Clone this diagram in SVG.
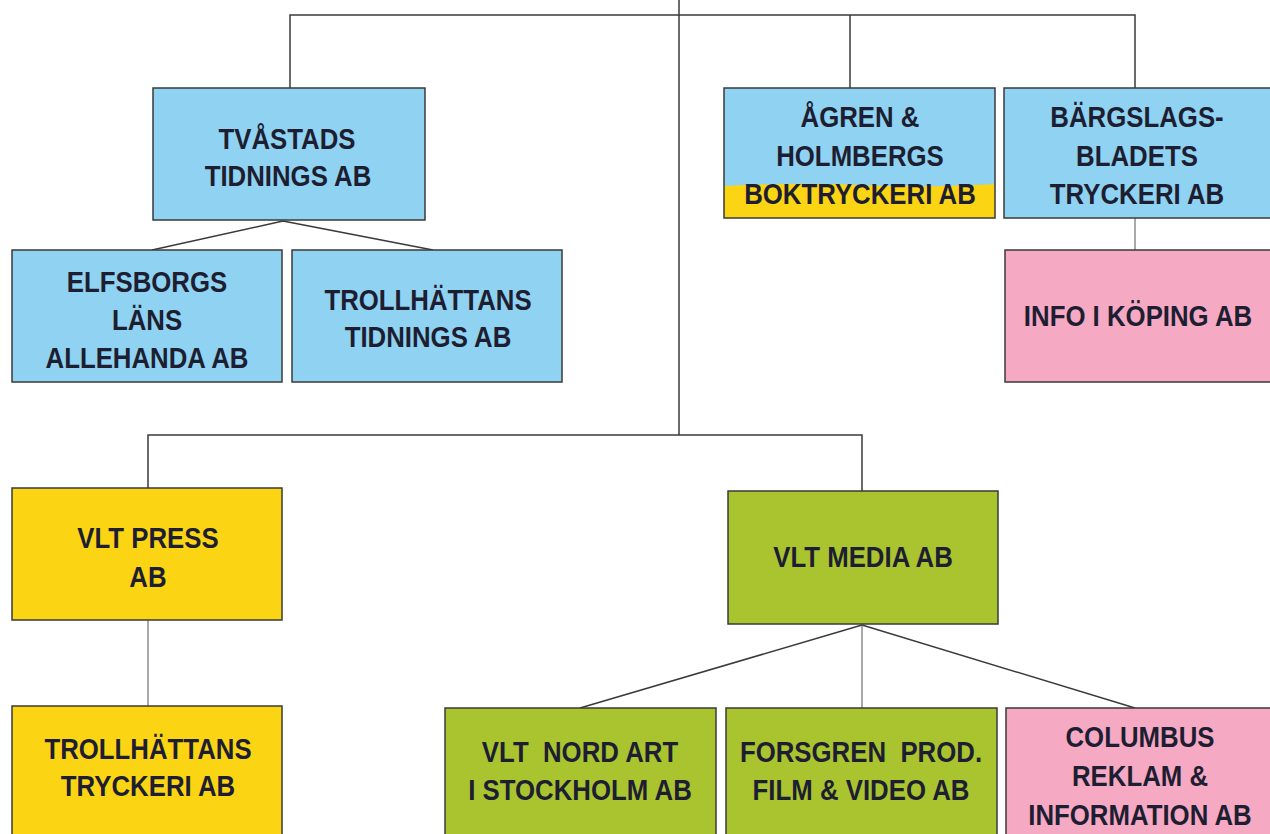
<svg xmlns="http://www.w3.org/2000/svg" width="1270" height="834" viewBox="0 0 1270 834">
<style>
.bg{fill:#ffffff}
.box{stroke:#3a3a3a;stroke-width:1.5}
.blue{fill:#8fd2f1}
.yellow{fill:#fbd414}
.green{fill:#a9c42f}
.pink{fill:#f6a9c3}
.t{font-family:"Liberation Sans",Arial,Helvetica,sans-serif;font-weight:bold;font-size:30px;fill:#1e1e32;text-anchor:middle;white-space:pre}
.c{stroke:#3a3a3a;stroke-width:1.5;fill:none}
.c2{stroke:#555;stroke-width:1;fill:none}
</style>
<rect class="bg" x="0" y="0" width="1270" height="834"/>
<g id="connectors">
<path class="c" d="M679 0 V435"/>
<path class="c" d="M290 88 V15 H1135 V88"/>
<path class="c" d="M850 15 V88"/>
<path class="c" d="M283 221 L152 250 M283 221 L433 250"/>
<path class="c2" d="M1135 218 V250"/>
<path class="c" d="M148 488 V435 H862 V491"/>
<path class="c2" d="M148 620 V706"/>
<path class="c" d="M862 625 L580 708 M862 625 L1135 708"/>
<path class="c2" d="M862 625 V708"/>
</g>
<g id="tvastads">
<rect class="box blue" x="153" y="88" width="272" height="132"/>
<text class="t" transform="translate(287,149) scale(0.86,1)">TVÅSTADS</text>
<text class="t" transform="translate(288,186) scale(0.86,1)">TIDNINGS AB</text>
</g>
<g id="elfsborgs">
<rect class="box blue" x="12" y="250" width="270" height="132"/>
<text class="t" transform="translate(147,292) scale(0.86,1)">ELFSBORGS</text>
<text class="t" transform="translate(147,330) scale(0.86,1)">LÄNS</text>
<text class="t" transform="translate(147,368) scale(0.86,1)">ALLEHANDA AB</text>
</g>
<g id="trollhattans-tidnings">
<rect class="box blue" x="292" y="250" width="270" height="132"/>
<text class="t" transform="translate(428,310) scale(0.86,1)">TROLLHÄTTANS</text>
<text class="t" transform="translate(428,347) scale(0.86,1)">TIDNINGS AB</text>
</g>
<g id="agren">
<rect class="blue" x="724" y="88" width="271" height="130"/>
<path class="yellow" d="M724 186 Q800 182 860 185 T995 184 V218 H724 Z"/>
<rect class="box" fill="none" x="724" y="88" width="271" height="130"/>
<text class="t" transform="translate(860,127) scale(0.86,1)">ÅGREN &amp;</text>
<text class="t" transform="translate(860,166) scale(0.86,1)">HOLMBERGS</text>
<text class="t" transform="translate(860,204) scale(0.86,1)">BOKTRYCKERI AB</text>
</g>
<g id="bargslags">
<rect class="box blue" x="1004" y="88" width="270" height="130"/>
<text class="t" transform="translate(1137,127) scale(0.86,1)">BÄRGSLAGS-</text>
<text class="t" transform="translate(1137,166) scale(0.86,1)">BLADETS</text>
<text class="t" transform="translate(1137,204) scale(0.86,1)">TRYCKERI AB</text>
</g>
<g id="info-koping">
<rect class="box pink" x="1005" y="250" width="270" height="132"/>
<text class="t" transform="translate(1138,326) scale(0.86,1)">INFO I KÖPING AB</text>
</g>
<g id="vlt-press">
<rect class="box yellow" x="12" y="488" width="270" height="132"/>
<text class="t" transform="translate(148,548) scale(0.86,1)">VLT PRESS</text>
<text class="t" transform="translate(148,587) scale(0.86,1)">AB</text>
</g>
<g id="trollhattans-tryckeri">
<rect class="box yellow" x="12" y="706" width="270" height="140"/>
<text class="t" transform="translate(148,759) scale(0.86,1)">TROLLHÄTTANS</text>
<text class="t" transform="translate(148,796) scale(0.86,1)">TRYCKERI AB</text>
</g>
<g id="vlt-media">
<rect class="box green" x="728" y="491" width="270" height="133"/>
<text class="t" transform="translate(863,567) scale(0.86,1)">VLT MEDIA AB</text>
</g>
<g id="vlt-nord-art">
<rect class="box green" x="445" y="708" width="271" height="140"/>
<text class="t" xml:space="preserve" transform="translate(580,762) scale(0.86,1)">VLT  NORD ART</text>
<text class="t" transform="translate(580,800) scale(0.86,1)">I STOCKHOLM AB</text>
</g>
<g id="forsgren">
<rect class="box green" x="726" y="708" width="271" height="140"/>
<text class="t" xml:space="preserve" transform="translate(861,762) scale(0.86,1)">FORSGREN  PROD.</text>
<text class="t" transform="translate(861,800) scale(0.86,1)">FILM &amp; VIDEO AB</text>
</g>
<g id="columbus">
<rect class="box pink" x="1006" y="708" width="270" height="140"/>
<text class="t" transform="translate(1140,747) scale(0.86,1)">COLUMBUS</text>
<text class="t" transform="translate(1140,786) scale(0.86,1)">REKLAM &amp;</text>
<text class="t" transform="translate(1140,825) scale(0.86,1)">INFORMATION AB</text>
</g>
</svg>
